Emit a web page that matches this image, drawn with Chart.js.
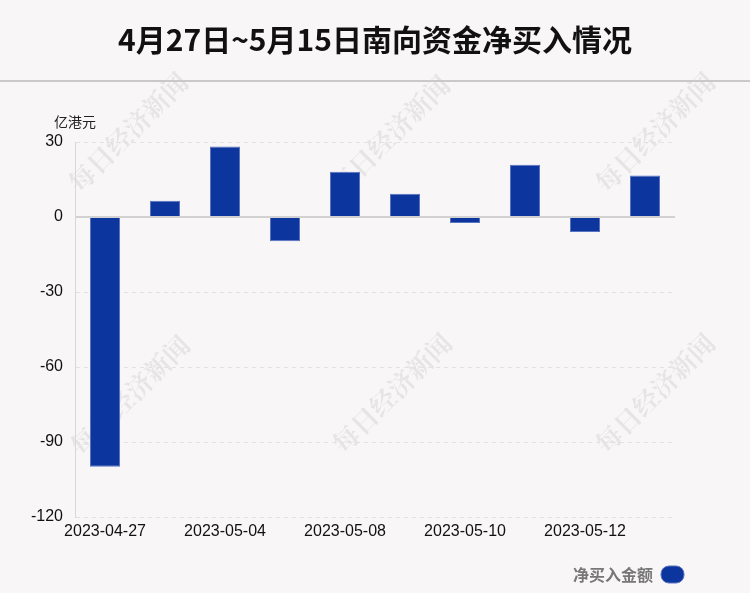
<!DOCTYPE html>
<html>
<head>
<meta charset="utf-8">
<script src="https://cdn.jsdelivr.net/npm/chart.js@4.4.0/dist/chart.umd.min.js"></script>
<style>
  body { margin: 0; background: #f9f6f7; }
  #wrap { position: relative; width: 750px; height: 593px; overflow: hidden; }
  #title { position: absolute; left: 0; top: 17px; width: 750px; text-align: center;
           font: bold 30px "Noto Sans CJK SC", sans-serif; color: #111; line-height: 42px; z-index: 2; }
  #rule { position: absolute; left: 0; top: 80px; width: 750px; height: 2px; background: #c9c9c9; z-index: 2; }
  #unit { position: absolute; left: 54px; top: 111px; font: 14px "Noto Sans CJK SC", sans-serif; color: #222; z-index: 2; }
  canvas { position: absolute; left: 0; top: 0; }
</style>
</head>
<body>
<div id="wrap">
  <div id="title">4月27日~5月15日南向资金净买入情况</div>
  <div id="rule"></div>
  <div id="unit">亿港元</div>
  <canvas id="barChart" width="750" height="593"></canvas>
</div>
<script>
// 南向资金每日净买入（亿港元）
var dates = ["2023-04-27", "2023-04-28", "2023-05-04", "2023-05-05", "2023-05-08",
             "2023-05-09", "2023-05-10", "2023-05-11", "2023-05-12", "2023-05-15"];
var netBuy = [-99.9, 6.5, 28.2, -9.7, 18.1, 9.3, -2.4, 20.9, -6.0, 16.6];
var yTicks = [30, 0, -30, -60, -90, -120];
var seriesName = "净买入金额";

// watermark text drawn behind the bars
var watermark = {
    id: "watermark",
    beforeDraw: function (chart) {
        var ctx = chart.ctx;
        var spots = [[128, 132], [390, 135], [655, 132], [130, 395], [392, 393], [655, 393]];
        ctx.save();
        ctx.fillStyle = "rgba(0,0,0,0.07)";
        ctx.font = "bold 26px 'Noto Serif CJK SC', 'Noto Sans CJK SC', serif";
        ctx.textAlign = "center";
        ctx.textBaseline = "middle";
        spots.forEach(function (p) {
            ctx.save();
            ctx.translate(p[0], p[1]);
            ctx.rotate(-Math.PI / 4);
            ctx.fillText("每日经济新闻", 0, 0);
            ctx.restore();
        });
        ctx.restore();
    }
};

var barChart = new Chart(document.getElementById("barChart"), {
    type: "bar",
    data: {
        labels: dates,
        datasets: [{
            label: seriesName,
            data: netBuy,
            backgroundColor: "#0c369e",
            borderColor: "#5873c0",
            borderWidth: 1,
            borderSkipped: "start",
            barPercentage: 0.5,
            categoryPercentage: 1
        }]
    },
    options: {
        responsive: false,
        animation: false,
        devicePixelRatio: 1,
        layout: { padding: { top: 142, right: 55, left: 0, bottom: 0 } },
        plugins: {
            tooltip: { enabled: false },
            legend: {
                position: "bottom",
                align: "start",
                rtl: true,
                labels: {
                    boxWidth: 23,
                    boxHeight: 17,
                    useBorderRadius: true,
                    borderRadius: 8,
                    padding: 11,
                    color: "#777",
                    font: { family: "'Noto Sans CJK SC', sans-serif", size: 16, weight: "bold" }
                }
            }
        },
        scales: {
            x: {
                afterFit: function (s) { s.height = 38; },
                grid: { display: false, drawTicks: false },
                border: { display: false },
                ticks: {
                    autoSkip: false,
                    maxRotation: 0,
                    padding: 5,
                    color: "#111",
                    font: { family: "'Liberation Sans', Arial, sans-serif", size: 16 },
                    callback: function (v, i) { return i % 2 === 0 ? this.getLabelForValue(v) : ""; }
                }
            },
            y: {
                min: -120,
                max: 30,
                afterFit: function (s) { s.width = 75; },
                afterBuildTicks: function (s) { s.ticks = yTicks.map(function (v) { return { value: v }; }); },
                grid: {
                    drawTicks: false,
                    color: function (c) { return c.tick && c.tick.value === 0 ? "#d2d2d2" : "#e4e1e2"; },
                    lineWidth: function (c) { return c.tick && c.tick.value === 0 ? 2 : 1; }
                },
                border: {
                    color: "#d8d8d8",
                    dash: function (c) { return c.type === "tick" && c.tick.value !== 0 ? [4, 4] : []; }
                },
                ticks: {
                    padding: 12,
                    color: "#111",
                    font: { family: "'Liberation Sans', Arial, sans-serif", size: 16 }
                }
            },
            // empty right-hand spacer so the legend can sit further right than the plot
            spacer: {
                position: "right",
                min: -120,
                max: 30,
                afterFit: function (s) { s.width = 20; },
                grid: { display: false, drawTicks: false },
                border: { display: false },
                ticks: { display: false }
            }
        }
    },
    plugins: [watermark]
});
</script>
</body>
</html>
